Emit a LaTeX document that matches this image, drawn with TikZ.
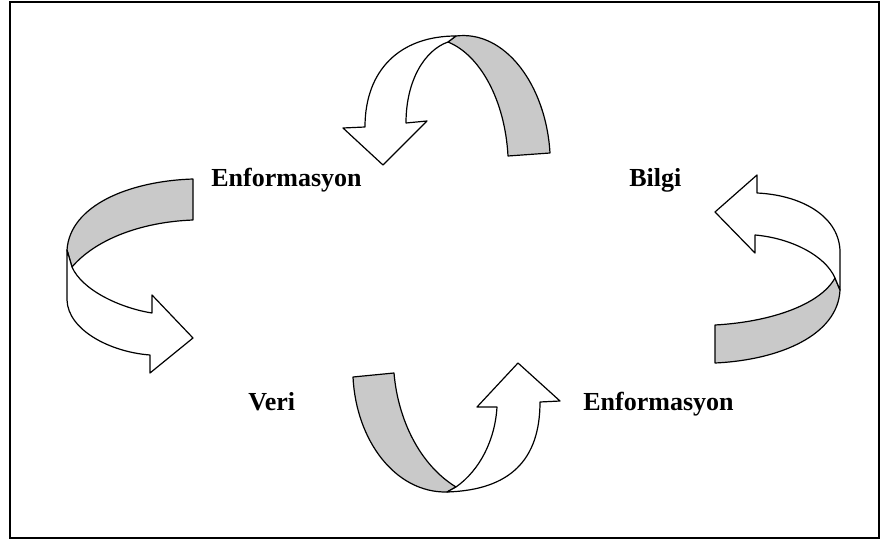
\documentclass[tikz,border=0pt]{standalone}
\usepackage{fontspec}
\setmainfont{Liberation Serif}
\tikzset{
  band/.style={draw=black,line width=0.6pt,fill=white,line join=round},
  backside/.style={band,fill=black!21},
  word/.style={font=\fontsize{13}{15}\selectfont\bfseries,inner sep=0pt,anchor=base west}
}
\begin{document}
\begin{tikzpicture}[x=0.5pt,y=-0.5pt]
\useasboundingbox (0,0) rectangle (880,540);
\draw[line width=1pt] (9.5,2) rectangle (879,537.5);
% labels
\node[word] (enf1) at (211,187) {Enformasyon};
\node[word] (bilgi) at (629,187) {Bilgi};
\node[word] (veri) at (248,410) {Veri};
\node[word] (enf2) at (583,410) {Enformasyon};
% top arrow
\draw[backside] (456,36) .. controls (505,30) and (546,85) .. (550,153) -- (508,156)
  .. controls (505,100) and (480,55) .. (448,42) -- cycle;
\draw[band] (456,36) .. controls (400,36) and (365,70) .. (365,127) -- (343,128) -- (383,165)
  -- (427,121) -- (406,123) .. controls (406,80) and (425,50) .. (448,42) -- cycle;
% left arrow
\draw[backside] (193,179) .. controls (130,181) and (70,205) .. (67,250) -- (72,267)
  .. controls (95,240) and (140,222) .. (193,220) -- cycle;
\draw[band] (67,250) -- (67,300) .. controls (68,330) and (110,352) .. (150,355) -- (150,373)
  -- (193,338) -- (152,295) -- (152,313) .. controls (120,308) and (82,290) .. (72,267) -- cycle;
% bottom arrow
\draw[backside] (353,377) -- (394,373) .. controls (398,420) and (420,465) .. (456,487)
  -- (447,492) .. controls (395,493) and (356,440) .. (353,377) -- cycle;
\draw[band] (447,492) .. controls (510,490) and (540,460) .. (540,402) -- (560,401) -- (518,363)
  -- (477,407) -- (497,407) .. controls (495,440) and (480,470) .. (456,487) -- cycle;
% right arrow
\draw[backside] (715,325) .. controls (770,322) and (820,305) .. (835,278) -- (840,290)
  .. controls (838,335) and (780,360) .. (715,363) -- cycle;
\draw[band] (840,290) -- (840,250) .. controls (838,215) and (800,195) .. (757,193) -- (757,175)
  -- (715,212) -- (755,253) -- (755,235) .. controls (790,238) and (825,255) .. (835,278) -- cycle;
\end{tikzpicture}
\end{document}
